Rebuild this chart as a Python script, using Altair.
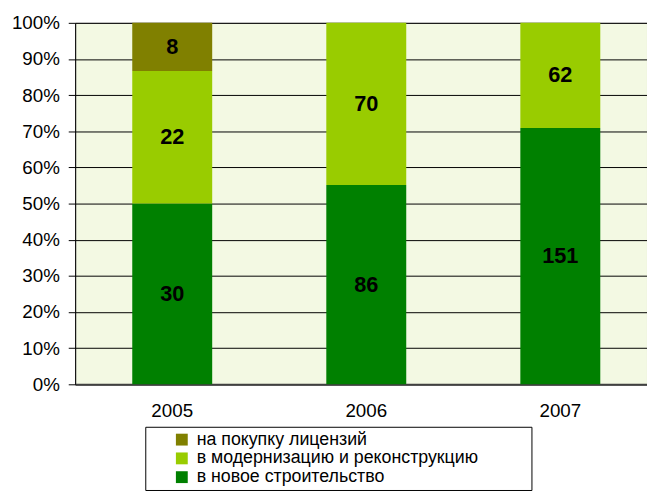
import altair as alt
import pandas as pd

years = ["2005", "2006", "2007"]
categories = ["в новое строительство", "в модернизацию и реконструкцию", "на покупку лицензий"]
new_build = [30, 86, 151]
modernization = [22, 70, 62]
licenses = [8, 0, 0]
colors = {"на покупку лицензий": "#808000",
          "в модернизацию и реконструкцию": "#99CC00",
          "в новое строительство": "#008000"}
y_ticks = [0, 0.1, 0.2, 0.3, 0.4, 0.5, 0.6, 0.7, 0.8, 0.9, 1.0]

rows = []
for i, y in enumerate(years):
    for k, (cat, vals) in enumerate(zip(categories, [new_build, modernization, licenses])):
        if vals[i] > 0:
            rows.append({"year": y, "cat": cat, "value": vals[i], "ord": k})
df = pd.DataFrame(rows)

FONT = "Liberation Sans"
legend_domain = categories[::-1]

base = alt.Chart(df).transform_stack(
    stack="value", groupby=["year"], as_=["v0", "v1"], offset="normalize",
    sort=[alt.SortField("ord", order="ascending")]
).transform_calculate(mid="(datum.v0 + datum.v1) / 2")

xscale = alt.Scale(paddingInner=0.588, paddingOuter=0.2675, align=0.55)
yscale = alt.Scale(domain=[0, 1], nice=False)

xaxis = alt.Axis(title=None, labelAngle=0, ticks=False, labelPadding=18,
                 labelFont=FONT, labelFontSize=19, labelColor="black",
                 domainColor="#404040", domainWidth=2, grid=False)
yaxis = alt.Axis(title=None, values=y_ticks, format=".0%", labelFont=FONT,
                 labelFontSize=19, labelColor="black", tickSize=7,
                 labelOverlap=False, labelFlush=False,
                 tickColor="black", labelPadding=9, domainColor="black",
                 gridColor="black", gridWidth=1, gridOpacity=1)

bars = base.mark_bar().encode(
    x=alt.X("year:N", sort=years, scale=xscale, axis=xaxis),
    y=alt.Y("v0:Q", scale=yscale, axis=yaxis),
    y2="v1:Q",
    color=alt.Color("cat:N",
                    scale=alt.Scale(domain=legend_domain,
                                    range=[colors[c] for c in legend_domain]),
                    legend=alt.Legend(title="\u00a0", titleOrient="right", titlePadding=50,
                                      titleFontSize=10,
                                      orient="none", legendX=71, legendY=409,
                                      strokeColor="black", fillColor="white", padding=4,
                                      symbolType="square", symbolSize=144,
                                      symbolStrokeWidth=0, symbolOffset=24,
                                      labelFont=FONT, labelFontSize=18, labelColor="black",
                                      labelOffset=6, rowPadding=1, labelLimit=500)),
)

text = base.mark_text(font=FONT, fontSize=22, fontWeight="bold", color="black",
                      baseline="middle").encode(
    x=alt.X("year:N", sort=years, scale=xscale, axis=xaxis),
    y=alt.Y("mid:Q", scale=yscale, axis=yaxis),
    text="value:Q",
)

chart = alt.layer(bars, text).properties(
    width=579, height=366,
    autosize=alt.AutoSizeParams(type="none"),
    padding={"left": 68, "top": 12, "right": 0, "bottom": 106},
).configure_view(fill="#f3f9e3", stroke="#808080")

chart.save("out.html", embed_options={"renderer": "svg", "actions": False})
